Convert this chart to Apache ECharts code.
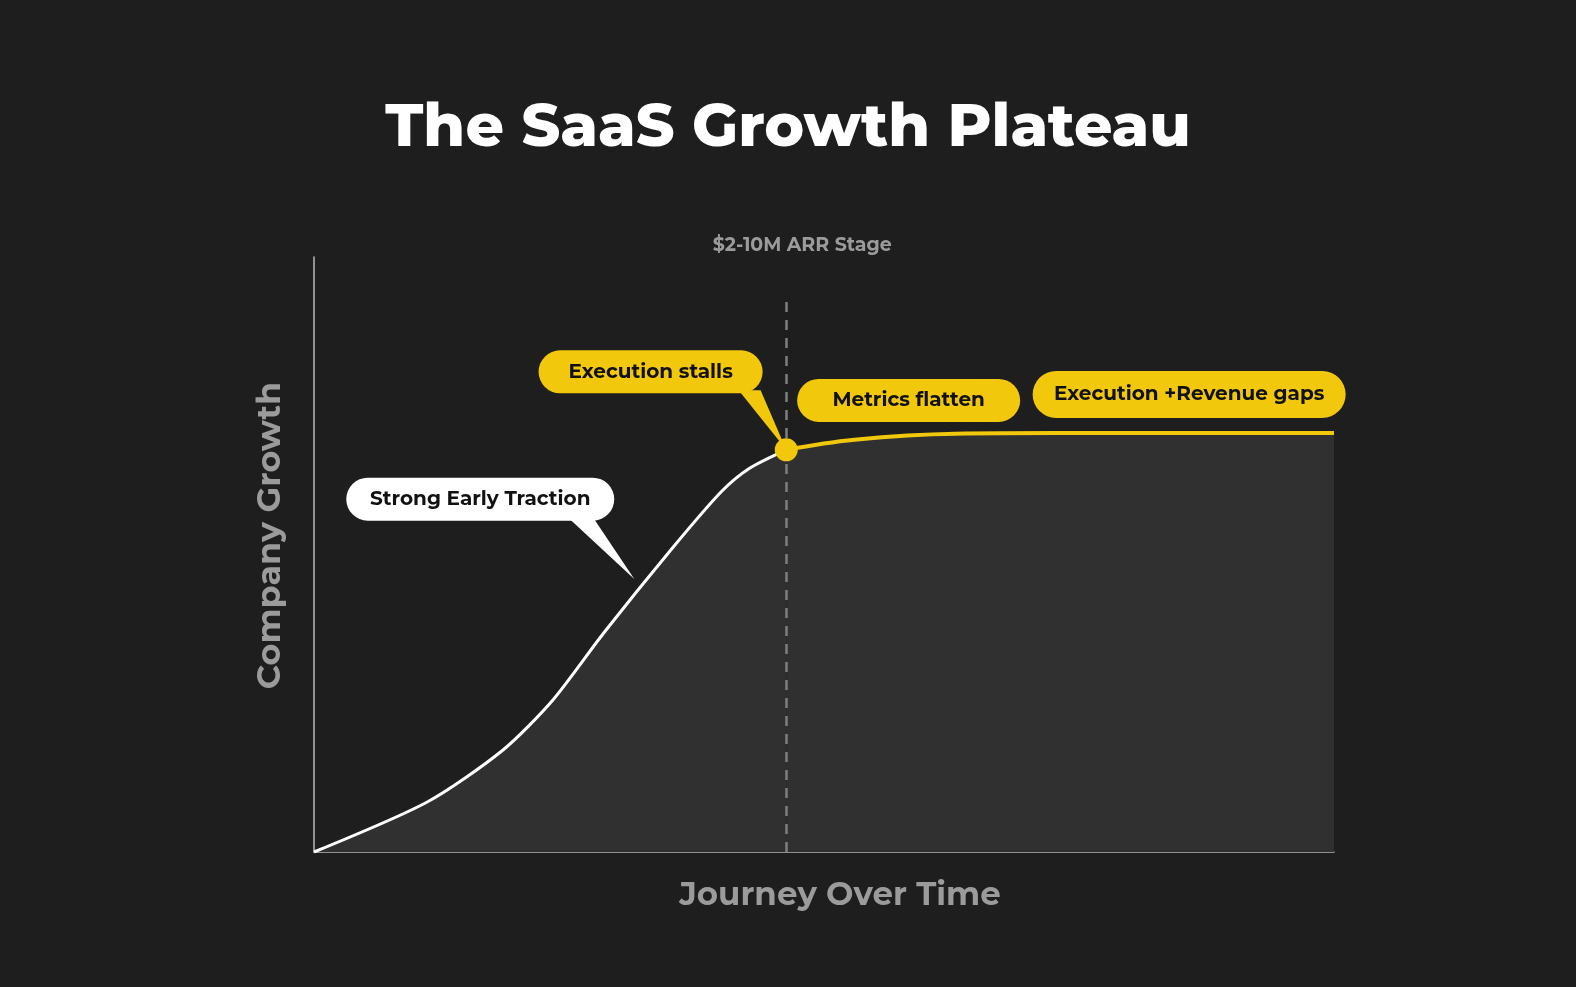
<!DOCTYPE html>
<html>
<head>
<meta charset="utf-8">
<script src="https://cdn.jsdelivr.net/npm/echarts@6/dist/echarts.min.js"></script>
<style>
html,body{margin:0;padding:0;background:#1e1e1e;}
#chart{width:1576px;height:987px;}
</style>
</head>
<body>
<div id="chart"></div>
<script>
// ---- data (x: journey progress 0-100, y: company growth 0-100) ----
const tractionX = [0, 11.1, 18.5, 23.4, 28.4, 35.0, 39.9, 42.7, 46.3];
const tractionY = [0, 8.4, 17.1, 25.5, 36.8, 50.8, 60.5, 64.5, 67.6];
const plateauX = [46.3, 53.0, 62.9, 72.7, 100];
const plateauY = [67.6, 69.3, 70.3, 70.4, 70.4];
const stageX = 46.3;
const stageLabel = '$2-10M ARR Stage';
const titleText = 'The SaaS Growth Plateau';
const xName = 'Journey Over Time';
const yName = 'Company Growth';
const calloutTexts = ['Strong Early Traction', 'Execution stalls', 'Metrics flatten', 'Execution +Revenue gaps'];

const YELLOW = '#f2c80c';
const FONT = 'Montserrat, Inter, "Open Sans", sans-serif';

const chart = echarts.init(document.getElementById('chart'));
const zip = (xs, ys) => xs.map((x, i) => [x, ys[i]]);

chart.setOption({
  backgroundColor: '#1e1e1e',
  animation: false,
  title: {
    text: titleText, left: 'center', top: 93,
    textStyle: {color: '#ffffff', fontSize: 60, fontWeight: 800, fontFamily: FONT}
  },
  grid: {left: 314, right: 242, top: 257, bottom: 135},
  xAxis: {
    type: 'value', min: 0, max: 100,
    name: xName, nameLocation: 'middle', nameGap: 27,
    nameTextStyle: {color: '#9b9b9b', fontSize: 32.5, fontWeight: 700, fontFamily: FONT, padding: [0, 0, 0, 32]},
    axisLine: {show: true, lineStyle: {color: '#b8b8b8', width: 1.5}},
    axisTick: {show: false}, axisLabel: {show: false}, splitLine: {show: false}
  },
  yAxis: {
    type: 'value', min: 0, max: 100,
    name: yName, nameLocation: 'middle', nameGap: 27,
    nameTextStyle: {color: '#9b9b9b', fontSize: 33.5, fontWeight: 700, fontFamily: FONT, padding: [0, 0, 0, 38]},
    axisLine: {show: true, lineStyle: {color: '#b8b8b8', width: 1.5}},
    axisTick: {show: false}, axisLabel: {show: false}, splitLine: {show: false}
  },
  series: [
    {
      type: 'line', data: zip(tractionX, tractionY), smooth: 0.26, symbol: 'none',
      lineStyle: {color: '#ffffff', width: 3},
      areaStyle: {color: '#303030', opacity: 1},
      z: 3,
      markLine: {
        silent: true, symbol: 'none',
        lineStyle: {color: '#7e7e7e', width: 2.5, type: [10, 8]},
        label: {
          show: true, position: 'end', formatter: stageLabel, distance: 41, offset: [16, 0],
          color: '#9b9b9b', fontSize: 19, fontWeight: 700, fontFamily: FONT
        },
        data: [[{coord: [stageX, 0]}, {coord: [stageX, 93.5]}]]
      }
    },
    {
      type: 'line', data: zip(plateauX, plateauY), smooth: 0.4, symbol: 'none',
      lineStyle: {color: YELLOW, width: 4},
      areaStyle: {color: '#303030', opacity: 1},
      z: 3
    },
    {
      type: 'scatter', data: [[tractionX[tractionX.length - 1], tractionY[tractionY.length - 1]]],
      symbolSize: 23, itemStyle: {color: YELLOW, opacity: 1}, z: 10
    }
  ]
});

// callout bubbles anchored in data coordinates
const callouts = [
  {text: calloutTexts[0], at: [16.3, 59.3], w: 268, h: 43, fill: '#ffffff', tip: [31.4, 45.9], base: [88, 113]},
  {text: calloutTexts[1], at: [33.0, 80.7], w: 224, h: 43, fill: YELLOW, tip: [46.3, 67.6], base: [88, 110]},
  {text: calloutTexts[2], at: [58.3, 75.9], w: 223, h: 43, fill: YELLOW},
  {text: calloutTexts[3], at: [85.8, 76.9], w: 313, h: 47, fill: YELLOW}
];
const px = p => chart.convertToPixel({gridIndex: 0}, p);
const elements = [];
callouts.forEach(c => {
  const [cx, cy] = px(c.at);
  const children = [];
  if (c.tip) {
    const [tx, ty] = px(c.tip);
    const by = cy + c.h / 2 - 3;
    children.push({type: 'polygon', shape: {points: [[cx + c.base[0], by], [cx + c.base[1], by], [tx, ty]]}, style: {fill: c.fill}});
  }
  children.push({type: 'rect', shape: {x: cx - c.w / 2, y: cy - c.h / 2, width: c.w, height: c.h, r: c.h / 2}, style: {fill: c.fill}});
  children.push({type: 'text', style: {text: c.text, x: cx, y: cy, align: 'center', verticalAlign: 'middle', fill: '#111111', fontSize: 20, fontWeight: 700, fontFamily: FONT}});
  elements.push({type: 'group', z: 5, children});
});
chart.setOption({graphic: {elements}});
</script>
</body>
</html>
